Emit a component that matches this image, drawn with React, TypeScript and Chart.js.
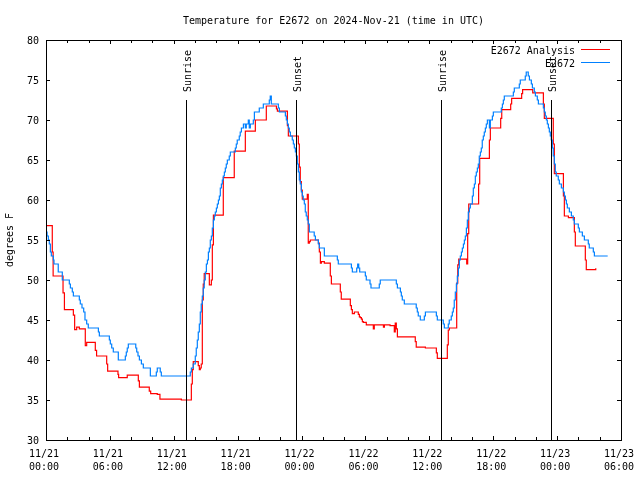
import React, { useEffect, useRef } from 'react';
import { Chart, registerables } from 'chart.js';

Chart.register(...registerables);

const FONT = "'DejaVu Sans Mono', 'Liberation Mono', monospace";

const TITLE = 'Temperature for E2672 on 2024-Nov-21 (time in UTC)';
const Y_TITLE = 'degrees F';
const SERIES_NAMES = ['E2672 Analysis', 'E2672'];
const SERIES_COLORS = ['#ff0000', '#0080ff'];

const X_DATES = ['11/21', '11/21', '11/21', '11/21', '11/22', '11/22', '11/22', '11/22', '11/23', '11/23'];
const X_TIMES = ['00:00', '06:00', '12:00', '18:00', '00:00', '06:00', '12:00', '18:00', '00:00', '06:00'];

const SUN_LABELS = ['Sunrise', 'Sunset', 'Sunrise', 'Sunset'];
const SUN_HOURS = [13.18, 23.51, 37.12, 47.45];

// [hours since 11/21 00:00 UTC, temperature F]
const ANALYSIS: [number, number][] = [
  [0, 56.8], [0.59, 53.5], [0.67, 50.5], [1.6, 48.4], [1.73, 46.3], [2.57, 45.6], [2.69, 43.8], [2.88, 44.1],
  [3.13, 43.9], [3.69, 41.8], [3.82, 42.2], [4.63, 41.2], [4.75, 40.5], [5.7, 39.5], [5.79, 38.6], [6.76, 38.2],
  [6.82, 37.8], [7.63, 38.1], [8.67, 37.4], [8.77, 36.6], [9.7, 36.1], [9.83, 35.8], [10.45, 35.7], [10.7, 35.1],
  [12.71, 35.0], [13.65, 37.0], [13.74, 38.8], [13.83, 39.8], [14.3, 39.3], [14.4, 38.8], [14.49, 39.0], [14.58, 39.5],
  [14.68, 47.5], [14.77, 49.5], [14.86, 50.8], [15.34, 49.4], [15.53, 50.0], [15.62, 54.4], [15.72, 58.1], [16.65, 62.8],
  [17.68, 66.1], [18.72, 68.6], [19.66, 70.0], [20.69, 71.75], [21.64, 71.4], [21.73, 71.1], [22.67, 69.3], [22.76, 68.0],
  [23.7, 67.0], [23.79, 64.1], [23.88, 62.3], [23.98, 61.25], [24.07, 60.1], [24.54, 60.7], [24.63, 54.6], [24.73, 54.8],
  [24.82, 55.0], [25.58, 54.6], [25.67, 53.5], [25.77, 52.1], [25.86, 52.3], [26.14, 52.1], [26.7, 50.5], [26.8, 49.5],
  [27.64, 48.5], [27.73, 47.6], [28.58, 46.8], [28.68, 46.3], [28.77, 45.8], [28.96, 46.0], [29.33, 45.7], [29.43, 45.4],
  [29.52, 45.3], [29.62, 45.1], [29.71, 44.8], [29.8, 44.7], [30.08, 44.4], [30.74, 43.9], [30.83, 44.4], [31.69, 44.1],
  [31.78, 44.4], [32.31, 44.3], [32.71, 43.5], [32.8, 44.6], [32.9, 43.9], [33.0, 42.9], [34.68, 42.3], [34.77, 41.6],
  [35.63, 41.5], [36.66, 40.9], [36.75, 40.2], [37.69, 41.9], [37.78, 43.75], [37.88, 44.0], [38.57, 49.6], [38.67, 51.9],
  [38.76, 52.6], [39.51, 52.0], [39.6, 55.8], [39.7, 59.5], [40.63, 62.0], [40.73, 65.2], [41.64, 67.5], [41.73, 69.0],
  [42.7, 70.2], [42.8, 71.3], [43.64, 72.0], [43.73, 72.7], [44.67, 73.3], [44.76, 73.8], [45.71, 73.4], [46.71, 72.0],
  [46.8, 70.2], [47.64, 67.0], [47.74, 63.3], [48.59, 60.5], [48.68, 58.0], [49.06, 57.8], [49.62, 56.0], [49.71, 54.25],
  [50.65, 52.5], [50.74, 51.3], [51.63, 51.46],
];

const OBSERVED: [number, number][] = [
  [0, 56.0], [0.1, 55.5], [0.22, 55.0], [0.31, 54.5], [0.41, 53.5], [0.5, 53.0], [0.69, 52.5], [0.75, 52.0],
  [1.15, 51.0], [1.53, 50.0], [2.19, 49.5], [2.29, 49.0], [2.47, 48.5], [2.57, 48.0], [3.13, 47.5], [3.22, 47.0],
  [3.38, 46.5], [3.54, 46.0], [3.66, 45.0], [3.82, 44.5], [3.97, 44.0], [4.92, 43.5], [5.01, 43.0], [5.95, 42.5],
  [6.04, 42.0], [6.17, 41.5], [6.32, 41.0], [6.79, 40.0], [7.45, 40.5], [7.54, 41.0], [7.63, 41.5], [7.73, 42.0],
  [8.43, 41.5], [8.52, 41.0], [8.64, 40.5], [8.77, 40.0], [8.96, 39.5], [9.14, 39.0], [9.8, 38.0], [10.36, 38.5],
  [10.45, 39.0], [10.73, 38.5], [10.83, 38.0], [13.55, 38.5], [13.65, 39.0], [13.83, 39.5], [14.02, 40.5], [14.11, 41.5],
  [14.21, 42.5], [14.3, 43.5], [14.4, 44.5], [14.49, 46.0], [14.58, 47.0], [14.68, 48.0], [14.77, 49.0], [14.86, 50.0],
  [14.96, 51.0], [15.06, 52.0], [15.16, 52.5], [15.25, 53.5], [15.34, 54.0], [15.43, 55.0], [15.53, 55.5], [15.62, 56.5],
  [15.72, 57.5], [15.81, 58.0], [15.9, 58.5], [16.0, 59.0], [16.09, 59.5], [16.19, 60.0], [16.28, 60.5], [16.37, 61.5],
  [16.47, 62.0], [16.56, 62.5], [16.65, 63.0], [16.75, 63.5], [16.84, 64.0], [16.93, 64.5], [17.03, 65.0], [17.21, 65.5],
  [17.31, 66.0], [17.78, 66.5], [17.87, 67.0], [17.96, 67.5], [18.15, 68.0], [18.24, 68.5], [18.35, 69.0], [18.54, 69.5],
  [18.72, 69.0], [18.81, 69.5], [19.0, 70.0], [19.09, 69.0], [19.19, 69.5], [19.47, 70.0], [19.57, 71.0], [20.03, 71.5],
  [20.41, 72.0], [20.97, 72.5], [21.06, 73.0], [21.16, 72.0], [21.82, 71.5], [21.92, 71.0], [22.48, 70.5], [22.57, 70.0],
  [22.67, 69.5], [22.76, 69.0], [22.85, 68.5], [22.95, 68.0], [23.13, 67.5], [23.23, 67.0], [23.32, 66.5], [23.42, 66.0],
  [23.51, 65.5], [23.6, 64.5], [23.7, 63.5], [23.79, 62.5], [23.88, 62.0], [23.98, 61.0], [24.07, 60.5], [24.16, 60.0],
  [24.26, 59.5], [24.35, 58.5], [24.44, 58.0], [24.54, 57.5], [24.63, 57.0], [24.73, 56.0], [25.19, 55.5], [25.3, 55.0],
  [25.58, 54.5], [25.67, 54.0], [26.14, 53.0], [27.36, 52.5], [27.45, 52.0], [28.68, 51.5], [28.77, 51.0], [29.18, 51.5],
  [29.27, 52.0], [29.37, 51.5], [29.46, 51.0], [29.99, 50.5], [30.08, 50.0], [30.43, 49.5], [30.52, 49.0], [31.3, 49.5],
  [31.39, 50.0], [32.9, 49.5], [33.0, 49.0], [33.28, 48.5], [33.37, 48.0], [33.46, 47.5], [33.65, 47.0], [34.77, 46.5],
  [34.87, 46.0], [34.96, 45.5], [35.15, 45.0], [35.53, 45.5], [35.63, 46.0], [36.66, 45.5], [36.75, 45.0], [37.31, 44.5],
  [37.41, 44.0], [37.78, 44.5], [37.87, 45.0], [38.06, 45.5], [38.16, 46.0], [38.25, 46.5], [38.34, 47.5], [38.44, 48.5],
  [38.54, 49.5], [38.63, 50.5], [38.73, 51.5], [38.82, 52.5], [38.91, 53.0], [39.01, 53.5], [39.1, 54.0], [39.2, 54.5],
  [39.29, 55.0], [39.38, 55.5], [39.48, 56.5], [39.57, 57.5], [39.66, 58.5], [39.76, 59.0], [39.85, 59.5], [40.04, 60.5],
  [40.13, 61.5], [40.23, 62.0], [40.32, 63.0], [40.41, 63.5], [40.51, 64.0], [40.6, 64.5], [40.69, 65.5], [40.79, 66.0],
  [40.88, 66.5], [40.97, 67.5], [41.07, 68.0], [41.16, 68.5], [41.26, 69.0], [41.35, 69.5], [41.45, 70.0], [41.64, 69.0],
  [41.73, 70.0], [41.92, 70.5], [42.01, 71.0], [42.76, 71.5], [42.86, 72.0], [42.95, 72.5], [43.04, 73.0], [43.89, 73.5],
  [43.98, 74.0], [44.45, 74.5], [44.54, 75.0], [45.01, 75.5], [45.1, 76.0], [45.29, 75.5], [45.4, 75.0], [45.58, 74.5],
  [45.68, 74.0], [45.86, 73.5], [45.96, 73.0], [46.14, 72.5], [46.24, 72.0], [46.71, 71.5], [46.8, 71.0], [46.89, 70.5],
  [46.99, 70.0], [47.08, 69.5], [47.18, 69.0], [47.27, 68.5], [47.36, 68.0], [47.45, 67.5], [47.55, 66.5], [47.64, 65.5],
  [47.74, 64.5], [47.83, 63.5], [47.92, 63.0], [48.11, 62.5], [48.21, 62.0], [48.4, 61.5], [48.59, 61.0], [48.68, 60.5],
  [48.78, 60.0], [48.87, 59.5], [48.96, 59.0], [49.15, 58.5], [49.34, 58.0], [49.52, 57.5], [49.62, 57.0], [49.99, 56.5],
  [50.09, 56.0], [50.37, 55.5], [50.56, 55.0], [50.93, 54.5], [51.02, 54.0], [51.4, 53.5], [51.5, 53.0], [52.75, 53.0],
];

const X_MIN = 0;
const X_MAX = 54;
const X_MAJOR = 6;
const X_MINOR = 2;
const Y_MIN = 30;
const Y_MAX = 80;
const Y_STEP = 5;
const SUN_LINE_TOP = 0.85; // fraction of graph height
const SUN_LABEL_POS = 0.87;

const framePlugin = {
  id: 'gnuplotFrame',
  afterDraw(chart: any) {
    const { ctx, chartArea: a } = chart;
    const xs = chart.scales.x;
    const ys = chart.scales.y;
    const crisp = (v: number) => Math.round(v) + 0.5;
    const seg = (x1: number, y1: number, x2: number, y2: number) => {
      ctx.beginPath();
      ctx.moveTo(x1, y1);
      ctx.lineTo(x2, y2);
      ctx.stroke();
    };
    ctx.save();
    ctx.strokeStyle = '#000';
    ctx.fillStyle = '#000';
    ctx.lineWidth = 1;

    // sunrise / sunset markers
    const sunTop = ys.getPixelForValue(Y_MIN + SUN_LINE_TOP * (Y_MAX - Y_MIN));
    const labelY = ys.getPixelForValue(Y_MIN + SUN_LABEL_POS * (Y_MAX - Y_MIN));
    ctx.font = `10px ${FONT}`;
    SUN_HOURS.forEach((h, i) => {
      const px = crisp(xs.getPixelForValue(h));
      seg(px, sunTop, px, a.bottom);
      ctx.save();
      ctx.translate(px + 4.5, labelY);
      ctx.rotate(-Math.PI / 2);
      ctx.textAlign = 'left';
      ctx.textBaseline = 'alphabetic';
      ctx.fillText(SUN_LABELS[i], 0, 0);
      ctx.restore();
    });

    // border
    ctx.strokeRect(crisp(a.left), crisp(a.top), Math.round(a.right - a.left), Math.round(a.bottom - a.top));

    // x ticks (inward, mirrored)
    for (let h = X_MIN; h <= X_MAX; h += X_MINOR) {
      const px = crisp(xs.getPixelForValue(h));
      const len = h % X_MAJOR === 0 ? 4 : 3;
      seg(px, a.bottom, px, a.bottom - len);
      seg(px, a.top, px, a.top + len);
    }
    // y ticks
    for (let v = Y_MIN; v <= Y_MAX; v += Y_STEP) {
      const py = crisp(ys.getPixelForValue(v));
      seg(a.left, py, a.left + 4, py);
      seg(a.right, py, a.right - 4, py);
    }

    // title
    ctx.font = `10px ${FONT}`;
    ctx.textAlign = 'center';
    ctx.textBaseline = 'alphabetic';
    ctx.fillText(TITLE, (a.left + a.right) / 2, 24);

    // y title
    ctx.save();
    ctx.translate(13, (a.top + a.bottom) / 2);
    ctx.rotate(-Math.PI / 2);
    ctx.textAlign = 'center';
    ctx.fillText(Y_TITLE, 0, 0);
    ctx.restore();

    // legend (gnuplot style: text right-aligned, sample on the right)
    chart.data.datasets.forEach((ds: any, i: number) => {
      const rowY = 49.5 + 13 * i;
      ctx.textAlign = 'right';
      ctx.textBaseline = 'alphabetic';
      ctx.fillStyle = '#000';
      ctx.fillText(ds.label, 575, rowY + 4.5);
      ctx.strokeStyle = ds.borderColor;
      seg(581, rowY, 610, rowY);
    });
    ctx.restore();
  },
};

export default function App() {
  const canvasRef = useRef<HTMLCanvasElement | null>(null);

  useEffect(() => {
    const canvas = canvasRef.current;
    if (!canvas) return;
    const toPoints = (rows: [number, number][]) => rows.map(([x, y]) => ({ x, y }));
    const chart = new Chart(canvas, {
      type: 'line',
      data: {
        datasets: [
          {
            label: SERIES_NAMES[0],
            data: toPoints(ANALYSIS),
            borderColor: SERIES_COLORS[0],
            backgroundColor: SERIES_COLORS[0],
            borderWidth: 1.2,
            stepped: true,
            pointRadius: 0,
            fill: false,
            order: 1,
          },
          {
            label: SERIES_NAMES[1],
            data: toPoints(OBSERVED),
            borderColor: SERIES_COLORS[1],
            backgroundColor: SERIES_COLORS[1],
            borderWidth: 1.2,
            stepped: true,
            pointRadius: 0,
            fill: false,
            order: 0,
          },
        ],
      },
      options: {
        animation: false,
        responsive: false,
        devicePixelRatio: 1,
        layout: { padding: { top: 40, right: 19, left: 0, bottom: 0 } },
        plugins: {
          legend: { display: false },
          tooltip: { enabled: false },
          title: { display: false },
        },
        scales: {
          x: {
            type: 'linear',
            min: X_MIN,
            max: X_MAX,
            afterFit: (s: any) => {
              s.height = 40;
              s.paddingLeft = 0;
              s.paddingRight = 0;
            },
            grid: { display: false, drawTicks: false },
            border: { display: false },
            ticks: {
              stepSize: X_MAJOR,
              autoSkip: false,
              maxRotation: 0,
              padding: 8,
              labelOffset: -2,
              color: '#000',
              font: { family: FONT, size: 10, lineHeight: 1.3 },
              callback: (_v: any, i: number) => [X_DATES[i], X_TIMES[i]],
            },
          },
          y: {
            type: 'linear',
            min: Y_MIN,
            max: Y_MAX,
            afterFit: (s: any) => {
              s.width = 46;
              s.paddingTop = 0;
              s.paddingBottom = 0;
            },
            grid: { display: false, drawTicks: false },
            border: { display: false },
            ticks: {
              stepSize: Y_STEP,
              padding: 7,
              labelOffset: 1,
              color: '#000',
              font: { family: FONT, size: 10 },
            },
          },
        },
      },
      plugins: [framePlugin],
    } as any);
    return () => chart.destroy();
  }, []);

  return (
    <div style={{ position: 'absolute', left: 0, top: 0, width: 640, height: 480, background: '#fff' }}>
      <canvas ref={canvasRef} width={640} height={480} style={{ width: 640, height: 480, display: 'block' }} />
    </div>
  );
}
